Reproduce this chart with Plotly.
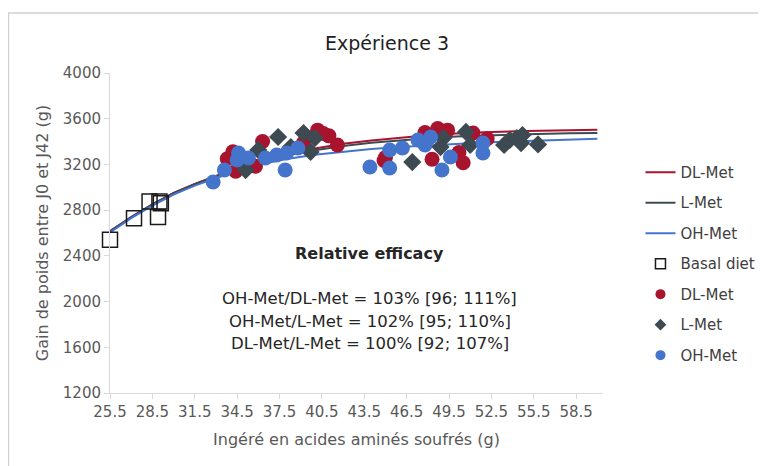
import plotly.graph_objects as go

# Fitted curves
curve_x = [25.5, 27, 28.5, 30, 31.5, 33, 34.5, 36, 38, 40, 42, 44, 46, 48, 50, 52, 55, 58, 60]
dl_curve = [2615, 2740, 2850, 2950, 3030, 3100, 3170, 3230, 3290, 3340, 3380, 3410, 3435, 3455, 3470, 3482, 3493, 3500, 3503]
l_curve = [2615, 2740, 2850, 2948, 3027, 3095, 3162, 3220, 3278, 3325, 3362, 3390, 3412, 3430, 3444, 3455, 3465, 3472, 3475]
oh_curve = [2605, 2730, 2840, 2937, 3015, 3083, 3145, 3198, 3248, 3285, 3313, 3335, 3353, 3368, 3381, 3392, 3405, 3418, 3425]

# Observations
basal_x = [25.5, 27.2, 28.3, 29.0, 29.1, 28.9]
basal_y = [2540, 2730, 2875, 2875, 2860, 2740]

dl_x = [33.8, 34.2, 34.4, 35.8, 36.3, 39.2, 40.2, 40.6, 41.0, 41.6, 44.9, 45.0, 48.3, 48.7, 49.4, 47.8, 50.2, 50.5, 51.2, 52.2]
dl_y = [3250, 3310, 3140, 3185, 3400, 3390, 3500, 3470, 3450, 3370, 3235, 3260, 3245, 3515, 3500, 3480, 3305, 3215, 3475, 3425]

l_x = [37.4, 39.2, 40.0, 39.7, 35.1, 36.0, 38.3, 46.9, 50.7, 51.0, 49.1, 48.9, 53.4, 53.8, 54.3, 54.7, 54.6, 55.8]
l_y = [3440, 3475, 3431, 3309, 3151, 3326, 3352, 3221, 3484, 3370, 3431, 3352, 3370, 3414, 3431, 3457, 3387, 3375]

oh_x = [32.8, 33.6, 34.5, 34.6, 35.3, 36.5, 37.3, 37.9, 38.0, 38.8, 43.9, 45.3, 45.3, 46.2, 47.3, 48.2, 47.8, 49.6, 49.0, 51.9, 51.9]
oh_y = [3046, 3151, 3239, 3300, 3256, 3256, 3283, 3151, 3300, 3344, 3178, 3169, 3326, 3344, 3414, 3440, 3370, 3265, 3151, 3387, 3300]

x_ticks = [25.5, 28.5, 31.5, 34.5, 37.5, 40.5, 43.5, 46.5, 49.5, 52.5, 55.5, 58.5]
y_ticks = [1200, 1600, 2000, 2400, 2800, 3200, 3600, 4000]

RED = "#A8132E"
GRAY = "#3E4A51"
BLUE = "#4474CB"
FONT = "DejaVu Sans"
TXT = "#262626"
AX = "#595959"

fig = go.Figure()
# fitted lines
fig.add_trace(go.Scatter(x=curve_x, y=dl_curve, mode="lines", name="DL-Met",
                         line=dict(color=RED, width=2), legendgroup="a"))
fig.add_trace(go.Scatter(x=curve_x, y=l_curve, mode="lines", name="L-Met",
                         line=dict(color=GRAY, width=2), legendgroup="b"))
fig.add_trace(go.Scatter(x=curve_x, y=oh_curve, mode="lines", name="OH-Met",
                         line=dict(color=BLUE, width=2), legendgroup="c"))
# observations (legend handled by small-marker legend entries below)
fig.add_trace(go.Scatter(x=basal_x, y=basal_y, mode="markers", name="Basal diet", showlegend=False,
                         cliponaxis=False,
                         marker=dict(symbol="square-open", size=15, color="#1a1a1a",
                                     line=dict(width=1.5, color="#1a1a1a")), legendgroup="d"))
fig.add_trace(go.Scatter(x=dl_x, y=dl_y, mode="markers", name="DL-Met", showlegend=False,
                         cliponaxis=False,
                         marker=dict(symbol="circle", size=15, color=RED), legendgroup="e"))
fig.add_trace(go.Scatter(x=l_x, y=l_y, mode="markers", name="L-Met", showlegend=False,
                         cliponaxis=False,
                         marker=dict(symbol="diamond", size=14, color=GRAY), legendgroup="f"))
fig.add_trace(go.Scatter(x=oh_x, y=oh_y, mode="markers", name="OH-Met", showlegend=False,
                         cliponaxis=False,
                         marker=dict(symbol="circle", size=15, color=BLUE), legendgroup="g"))
# legend entries with small symbols
fig.add_trace(go.Scatter(x=[None], y=[None], mode="markers", name="Basal diet", legendgroup="d",
                         marker=dict(symbol="square-open", size=10, color="#1a1a1a",
                                     line=dict(width=1.5, color="#1a1a1a"))))
fig.add_trace(go.Scatter(x=[None], y=[None], mode="markers", name="DL-Met", legendgroup="e",
                         marker=dict(symbol="circle", size=10, color=RED)))
fig.add_trace(go.Scatter(x=[None], y=[None], mode="markers", name="L-Met", legendgroup="f",
                         marker=dict(symbol="diamond", size=9, color=GRAY)))
fig.add_trace(go.Scatter(x=[None], y=[None], mode="markers", name="OH-Met", legendgroup="g",
                         marker=dict(symbol="circle", size=10, color=BLUE)))

ann = [
    dict(x=43.9, y=2425, text="<b>Relative efficacy</b>", size=16),
    dict(x=43.9, y=2031, text="OH-Met/DL-Met = 103% [96; 111%]", size=16.5),
    dict(x=43.9, y=1830, text="OH-Met/L-Met = 102% [95; 110%]", size=16.5),
    dict(x=43.9, y=1637, text="DL-Met/L-Met = 100% [92; 107%]", size=16.5),
]
for a in ann:
    fig.add_annotation(x=a["x"], y=a["y"], xref="x", yref="y", text=a["text"],
                       showarrow=False, font=dict(family=FONT, size=a["size"], color=TXT))

# outer chart frame
fig.add_shape(type="rect", xref="paper", yref="paper", x0=-0.206, x1=1.5, y0=-0.5, y1=1.1875,
              line=dict(color="#D0D0D0", width=1.5), fillcolor="rgba(0,0,0,0)", layer="below")

# page has an 8px body margin: figure is 758x458 so that it fills the 766x466 window
fig.update_layout(
    width=758, height=458,
    margin=dict(l=102, r=163, t=65, b=73, autoexpand=False),
    paper_bgcolor="white", plot_bgcolor="white",
    font=dict(family=FONT, color=AX, size=15),
    title=dict(text="Expérience 3", x=0.5, xref="container", xanchor="center",
               y=1 - 35 / 458, yref="container", yanchor="middle",
               font=dict(family=FONT, size=19, color="#1f1f1f")),
    showlegend=True,
    legend=dict(x=1.076, y=0.741, xanchor="left", yanchor="top", tracegroupgap=8,
                font=dict(family=FONT, size=15, color="#404040"), bgcolor="rgba(0,0,0,0)",
                itemwidth=30),
    xaxis=dict(range=[25.5, 60.4], tickvals=x_ticks, ticktext=[str(v) for v in x_ticks],
               showgrid=False, zeroline=False, showline=True, linecolor="#D9D9D9", linewidth=1,
               ticks="outside", ticklen=5, tickcolor="#D9D9D9",
               tickfont=dict(size=15, color=AX), automargin=False,
               title=dict(text="Ingéré en acides aminés soufrés (g)", standoff=13,
                          font=dict(size=16, color=AX))),
    yaxis=dict(range=[1200, 4000], tickvals=y_ticks, ticktext=[str(v) for v in y_ticks],
               showgrid=False, zeroline=False, showline=True, linecolor="#D9D9D9", linewidth=1,
               ticks="outside", ticklen=5, tickcolor="#D9D9D9",
               tickfont=dict(size=15, color=AX), automargin=False,
               title=dict(text="Gain de poids entre J0 et J42 (g)", standoff=10,
                          font=dict(size=16, color=AX))),
)

fig.write_html("out.html")
